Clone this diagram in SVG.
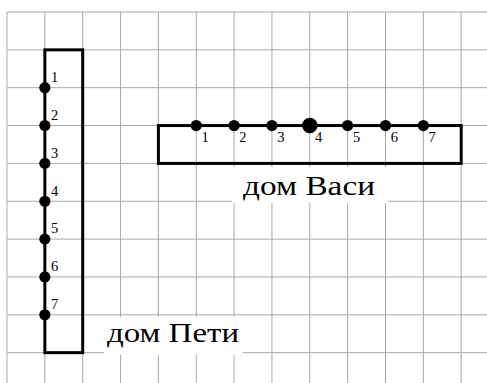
<svg xmlns="http://www.w3.org/2000/svg" width="487" height="383" viewBox="0 0 487 383">
  <style>
    .grid line { stroke: #a8a8a8; stroke-width: 1; }
    .house { fill: none; stroke: #000; stroke-width: 3; }
    .pt { fill: #000; }
    .num { font-family: "Liberation Serif", "DejaVu Serif", serif; font-size: 14.5px; fill: #000; }
    .name { font-family: "Liberation Serif", "DejaVu Serif", serif; font-size: 28px; fill: #000; }
    .bg { fill: #fff; }
  </style>
  <rect width="487" height="383" fill="#fff"/>
  <g id="grid" class="grid">
    <line x1="7" y1="12" x2="487" y2="12"/>
    <line x1="7" y1="49.85" x2="487" y2="49.85"/>
    <line x1="7" y1="87.7" x2="487" y2="87.7"/>
    <line x1="7" y1="125.55" x2="487" y2="125.55"/>
    <line x1="7" y1="163.4" x2="487" y2="163.4"/>
    <line x1="7" y1="201.25" x2="487" y2="201.25"/>
    <line x1="7" y1="239.1" x2="487" y2="239.1"/>
    <line x1="7" y1="276.95" x2="487" y2="276.95"/>
    <line x1="7" y1="314.8" x2="487" y2="314.8"/>
    <line x1="7" y1="352.65" x2="487" y2="352.65"/>
    <line x1="7" y1="12" x2="7" y2="383"/>
    <line x1="44.85" y1="12" x2="44.85" y2="383"/>
    <line x1="82.7" y1="12" x2="82.7" y2="383"/>
    <line x1="120.55" y1="12" x2="120.55" y2="383"/>
    <line x1="158.4" y1="12" x2="158.4" y2="383"/>
    <line x1="196.25" y1="12" x2="196.25" y2="383"/>
    <line x1="234.1" y1="12" x2="234.1" y2="383"/>
    <line x1="271.95" y1="12" x2="271.95" y2="383"/>
    <line x1="309.8" y1="12" x2="309.8" y2="383"/>
    <line x1="347.65" y1="12" x2="347.65" y2="383"/>
    <line x1="385.5" y1="12" x2="385.5" y2="383"/>
    <line x1="423.35" y1="12" x2="423.35" y2="383"/>
    <line x1="461.2" y1="12" x2="461.2" y2="383"/>
  </g>
  <g id="house-petya">
    <rect class="house" x="44.85" y="49.85" width="37.85" height="302.8"/>
    <rect class="bg" x="104" y="317" width="139" height="38"/>
    <text class="name" x="107" y="341.7" textLength="132" lengthAdjust="spacingAndGlyphs">дом Пети</text>
  </g>
  <g id="house-vasya">
    <rect class="house" x="158.4" y="125.55" width="302.8" height="37.85"/>
    <rect class="bg" x="232" y="167" width="156" height="36"/>
    <text class="name" x="243" y="194.5" textLength="132" lengthAdjust="spacingAndGlyphs">дом Васи</text>
  </g>
  <g id="petya-points">
    <g id="p1"><circle class="pt" cx="44.85" cy="87.7" r="5.6"/><text class="num" x="51" y="82">1</text></g>
    <g id="p2"><circle class="pt" cx="44.85" cy="125.55" r="5.6"/><text class="num" x="51" y="119.8">2</text></g>
    <g id="p3"><circle class="pt" cx="44.85" cy="163.4" r="5.6"/><text class="num" x="51" y="157.7">3</text></g>
    <g id="p4"><circle class="pt" cx="44.85" cy="201.25" r="5.6"/><text class="num" x="51" y="195.5">4</text></g>
    <g id="p5"><circle class="pt" cx="44.85" cy="239.1" r="5.6"/><text class="num" x="51" y="233.4">5</text></g>
    <g id="p6"><circle class="pt" cx="44.85" cy="276.95" r="5.6"/><text class="num" x="51" y="271.2">6</text></g>
    <g id="p7"><circle class="pt" cx="44.85" cy="314.8" r="5.6"/><text class="num" x="51" y="309.1">7</text></g>
  </g>
  <g id="vasya-points">
    <g id="v1"><circle class="pt" cx="196.25" cy="125.55" r="5.6"/><text class="num" x="201.5" y="141.8">1</text></g>
    <g id="v2"><circle class="pt" cx="234.1" cy="125.55" r="5.6"/><text class="num" x="239.3" y="141.8">2</text></g>
    <g id="v3"><circle class="pt" cx="271.95" cy="125.55" r="5.6"/><text class="num" x="277.2" y="141.8">3</text></g>
    <g id="v4"><circle class="pt" cx="309.8" cy="125.55" r="7.8"/><text class="num" x="315" y="141.8">4</text></g>
    <g id="v5"><circle class="pt" cx="347.65" cy="125.55" r="5.6"/><text class="num" x="352.9" y="141.8">5</text></g>
    <g id="v6"><circle class="pt" cx="385.5" cy="125.55" r="5.6"/><text class="num" x="390.7" y="141.8">6</text></g>
    <g id="v7"><circle class="pt" cx="423.35" cy="125.55" r="5.6"/><text class="num" x="428.6" y="141.8">7</text></g>
  </g>
</svg>
